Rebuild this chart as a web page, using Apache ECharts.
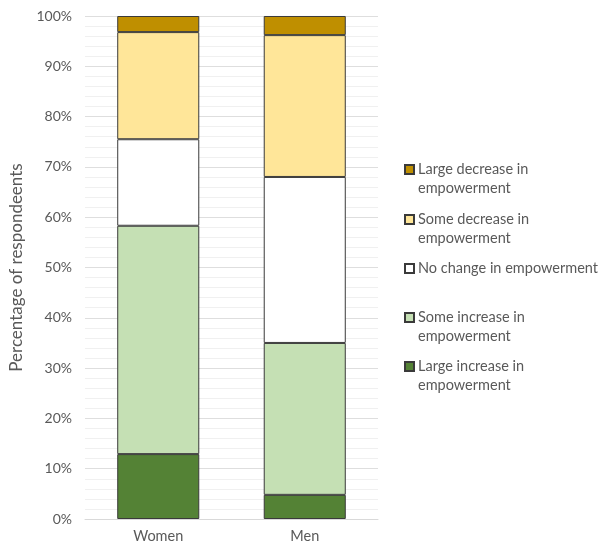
<!DOCTYPE html>
<html><head><meta charset="utf-8">
<script src="https://cdn.jsdelivr.net/npm/echarts@6/dist/echarts.min.js"></script>
<style>html,body{margin:0;padding:0;background:#fff}#c{width:603px;height:546px}</style>
</head><body><div id="c"></div>
<script>
var categories = ['Women', 'Men'];
var seriesNames = ['Large increase in empowerment', 'Some increase in empowerment', 'No change in empowerment', 'Some decrease in empowerment', 'Large decrease in empowerment'];
var largeIncrease = [12.9, 4.8];
var someIncrease = [45.4, 30.2];
var noChange = [17.2, 33.0];
var someDecrease = [21.3, 28.2];
var largeDecrease = [3.2, 3.8];
var legendLabels = ['Large increase in\nempowerment', 'Some increase in\nempowerment', 'No change in empowerment', 'Some decrease in\nempowerment', 'Large decrease in\nempowerment'];
var colors = ['#548235', '#C5E0B4', '#FFFFFF', '#FFE699', '#BF8F00'];
var values = [largeIncrease, someIncrease, noChange, someDecrease, largeDecrease];
var legendTops = [357, 308, 259, 210, 160];

var font = 'Lato, "Open Sans", sans-serif';
var series = seriesNames.map(function (n, i) {
  return {
    name: n, type: 'bar', stack: 'total', barWidth: '56%',
    data: values[i],
    itemStyle: { color: colors[i], borderColor: '#3a3a3a', borderWidth: 1 },
    emphasis: { disabled: true }
  };
});
var legends = seriesNames.map(function (n, i) {
  var twoLine = legendLabels[i].indexOf('\n') >= 0;
  return {
    data: [n], left: 404, top: legendTops[i] - (twoLine ? 19 : 0), orient: 'vertical',
    itemWidth: 9, itemHeight: 9, itemGap: 0, padding: 0,
    icon: 'rect',
    formatter: function () { return twoLine ? ' \n' + legendLabels[i] : legendLabels[i]; },
    textStyle: { color: '#595959', fontSize: 14.5, fontFamily: font, lineHeight: 19, padding: [0, 0, 0, -1] },
    selectedMode: false
  };
});
var chart = echarts.init(document.getElementById('c'));
chart.setOption({
  animation: false,
  grid: { left: 85, right: 225, top: 16, bottom: 27 },
  legend: legends,
  xAxis: {
    type: 'category', data: categories,
    axisLine: { show: true, lineStyle: { color: '#d9d9d9' } },
    axisTick: { show: false },
    axisLabel: { color: '#595959', fontSize: 14.5, fontFamily: font, margin: 10 }
  },
  yAxis: {
    type: 'value', min: 0, max: 100, interval: 10,
    name: 'Percentage of respondeents', nameLocation: 'middle', nameGap: 60, nameRotate: 90,
    nameTextStyle: { color: '#595959', fontSize: 17, fontFamily: font },
    axisLabel: { color: '#595959', fontSize: 14, fontFamily: font, formatter: '{value}%', margin: 13 },
    axisLine: { show: false }, axisTick: { show: false },
    splitLine: { show: true, lineStyle: { color: '#dedede' } },
    minorTick: { show: false, splitNumber: 5 },
    minorSplitLine: { show: true, lineStyle: { color: '#f0f0f0' } }
  },
  series: series
});
</script></body></html>
